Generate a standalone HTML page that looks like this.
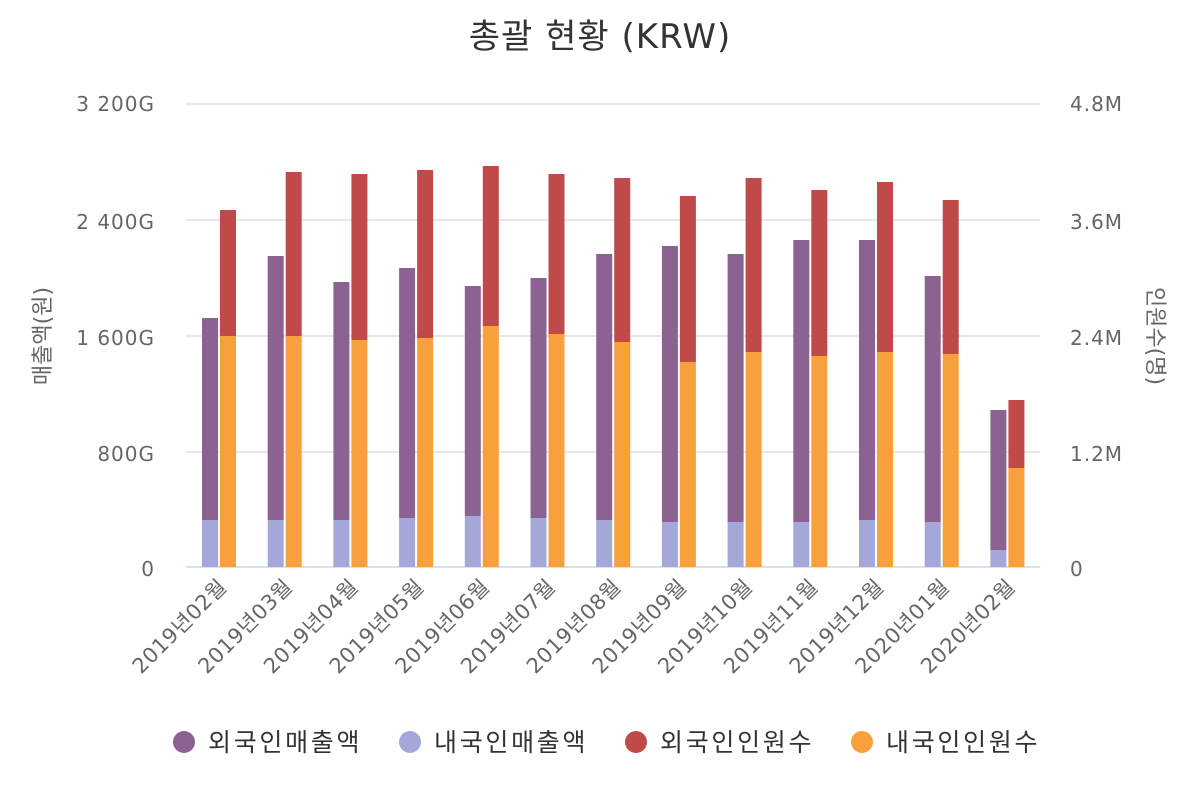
<!DOCTYPE html>
<html><head><meta charset="utf-8"><style>
body{margin:0;background:#fff;}
svg text{font-family:"DejaVu Sans","Noto Sans CJK KR",sans-serif;}
</style></head><body>
<svg width="1200" height="800" xmlns="http://www.w3.org/2000/svg">
<text x="600" y="48" text-anchor="middle" font-size="34" letter-spacing="1" fill="#333">총괄 현황 (KRW)</text>
<g stroke="#e0e0e0" stroke-width="1.5">
<line x1="186" x2="1040" y1="104" y2="104"/><line x1="186" x2="1040" y1="220" y2="220"/>
<line x1="186" x2="1040" y1="336" y2="336"/><line x1="186" x2="1040" y1="452" y2="452"/>
</g>
<line x1="186" x2="1040" y1="567" y2="567" stroke="#ccd6eb" stroke-width="1.5"/>
<g font-size="20" fill="#666" text-anchor="end" letter-spacing="1">
<text x="155" y="111">3 200G</text><text x="155" y="229">2 400G</text><text x="155" y="345">1 600G</text><text x="155" y="461">800G</text><text x="155" y="576">0</text>
</g>
<g font-size="20" fill="#666" letter-spacing="1">
<text x="1070" y="111">4.8M</text><text x="1070" y="229">3.6M</text><text x="1070" y="345">2.4M</text><text x="1070" y="461">1.2M</text><text x="1070" y="576">0</text>
</g>
<text transform="translate(50,336) rotate(-90)" text-anchor="middle" font-size="22" fill="#666">매출액(원)</text>
<text transform="translate(1148,336) rotate(90)" text-anchor="middle" font-size="22" fill="#666">인원수(명)</text>
<g id="bars"></g>
<g id="labels" font-size="21" fill="#666" text-anchor="end" letter-spacing="0.5"></g>
<g font-size="25" fill="#333" letter-spacing="2.7">
<circle cx="184" cy="742" r="11" fill="#8b6391"/><text x="208" y="751">외국인매출액</text>
<circle cx="410" cy="742" r="11" fill="#a3a8d9"/><text x="434" y="751">내국인매출액</text>
<circle cx="636" cy="742" r="11" fill="#c0494a"/><text x="660" y="751">외국인인원수</text>
<circle cx="862" cy="742" r="11" fill="#f7a03c"/><text x="886" y="751">내국인인원수</text>
</g>
<script>
var d=[[318,520,210,336],[256,520,172,336],[282,520,174,340],[268,518,170,338],[286,516,166,326],[278,518,174,334],[254,520,178,342],[246,522,196,362],[254,522,178,352],[240,522,190,356],[240,520,182,352],[276,522,200,354],[410,550,400,468]];
var L=["2019년02월","2019년03월","2019년04월","2019년05월","2019년06월","2019년07월","2019년08월","2019년09월","2019년10월","2019년11월","2019년12월","2020년01월","2020년02월"];
var ns="http://www.w3.org/2000/svg",b=document.getElementById("bars"),lb=document.getElementById("labels");
function r(x,y1,y2,c){var e=document.createElementNS(ns,"rect");e.setAttribute("x",x);e.setAttribute("y",y1);e.setAttribute("width",16);e.setAttribute("height",y2-y1);e.setAttribute("fill",c);b.appendChild(e);}
d.forEach(function(v,i){var x=202+i*65.7;
r(x,v[0],v[1],"#8b6391");r(x,v[1],567,"#a3a8d9");r(x+18,v[2],v[3],"#c0494a");r(x+18,v[3],567,"#f7a03c");
var t=document.createElementNS(ns,"text");var cx=x+26,cy=588;t.setAttribute("x",cx);t.setAttribute("y",cy);t.setAttribute("transform","rotate(-45 "+cx+" "+cy+")");t.textContent=L[i];lb.appendChild(t);});
</script>
</svg>
</body></html>
